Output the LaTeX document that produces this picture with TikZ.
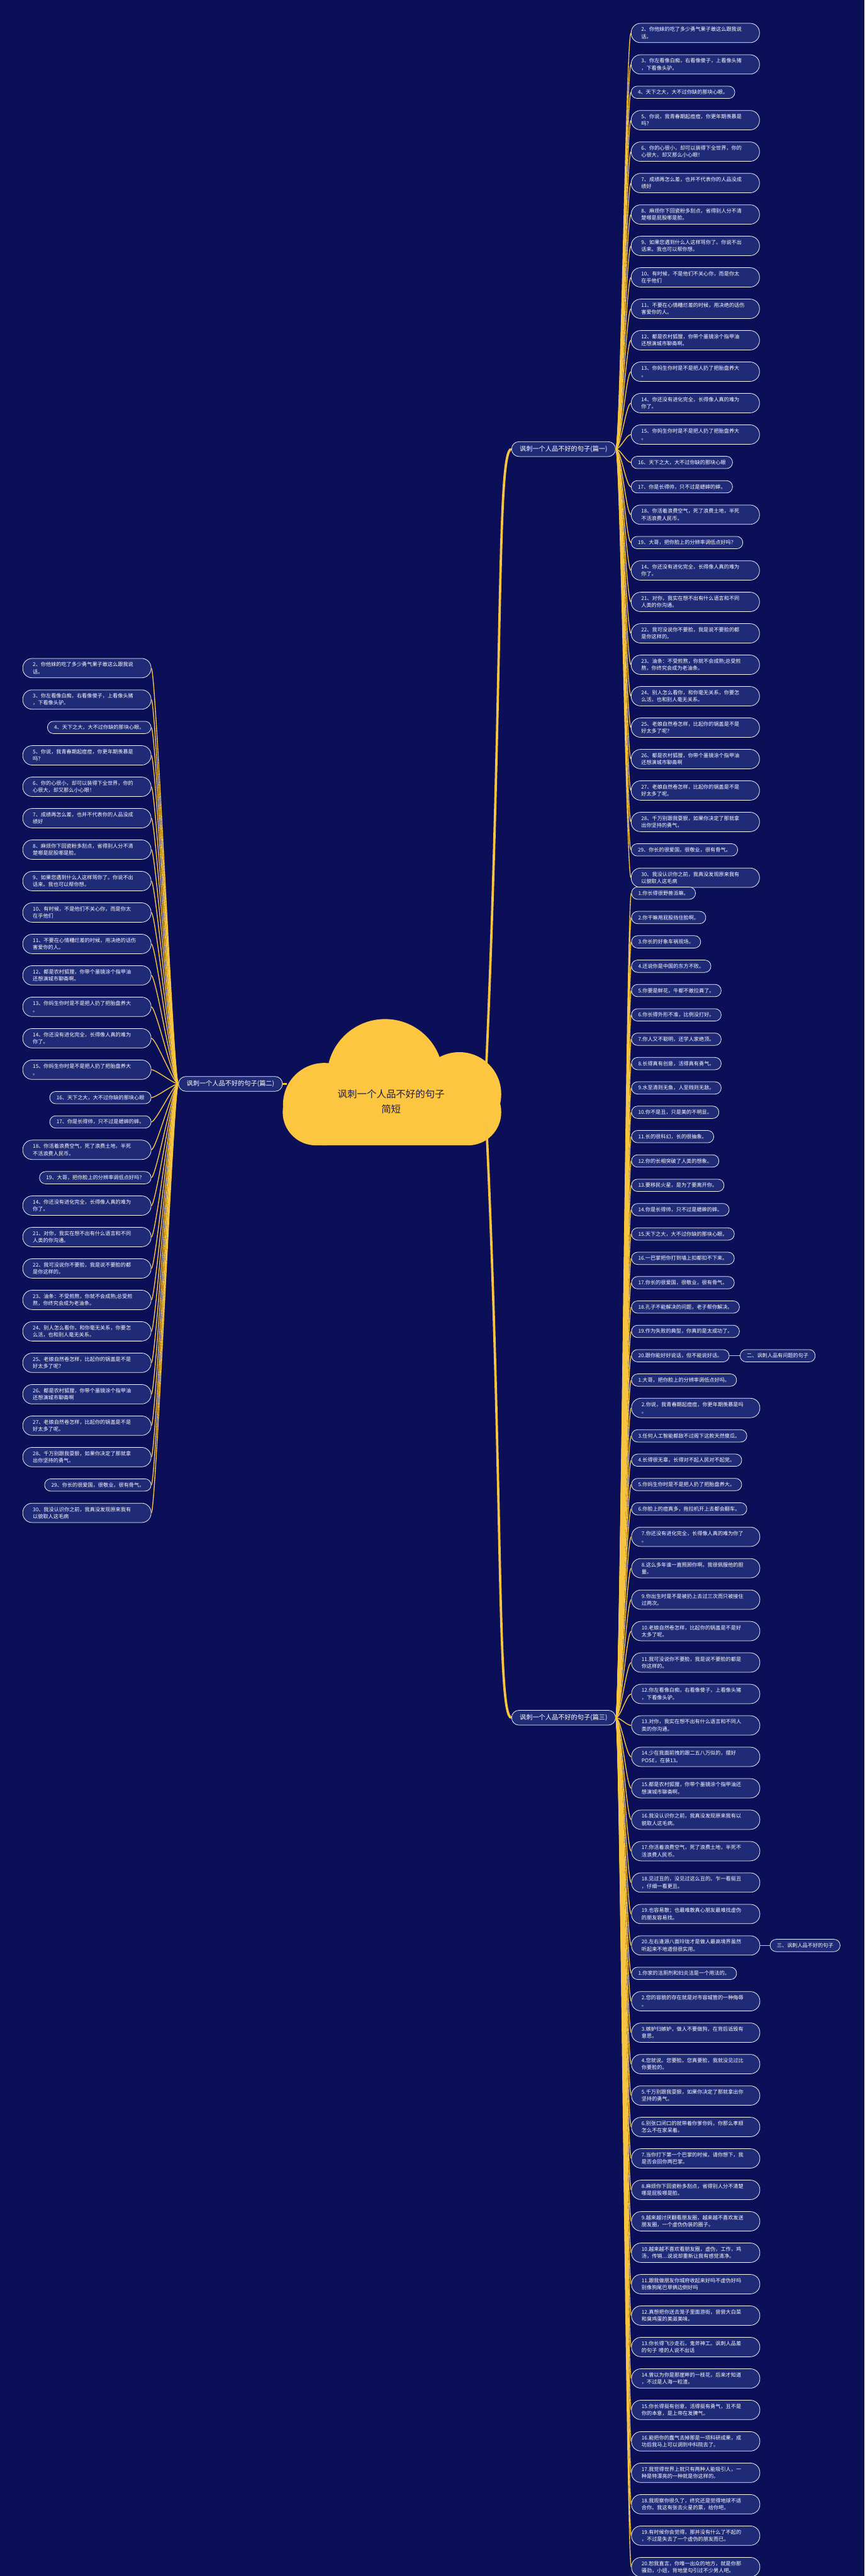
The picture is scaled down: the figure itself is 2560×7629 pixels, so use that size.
\documentclass[tikz,border=0pt]{standalone}
\usepackage{fontspec}
\setmainfont{Noto Sans CJK SC}
\usetikzlibrary{positioning,calc}

\definecolor{bgnavy}{HTML}{0B0F57}
\definecolor{leaffill}{HTML}{202B78}
\definecolor{linkgold}{HTML}{F7C43F}
\definecolor{cloudgold}{HTML}{FDC640}
\definecolor{roottext}{HTML}{1A1D55}

\begin{document}
\begin{tikzpicture}[
    x=0.5pt, y=-0.5pt,
    font=\fontsize{7.6}{10.5}\selectfont,
    node distance=17.1pt,
    leaf/.style={draw=white, line width=0.7pt, fill=leaffill, text=white, inner ysep=2pt},
    leafA/.style={leaf, text width=160pt, align=left, inner xsep=15pt, minimum height=28.75pt, rounded corners=14pt},
    leafB/.style={leaf, inner xsep=10pt, minimum height=18.25pt, rounded corners=9pt},
    nlines/.code={\ifnum#1=2 \tikzset{leafA}\else\tikzset{leafB}\fi},
    branch/.style={leaf, font=\fontsize{9.5}{12}\selectfont, inner xsep=12pt, minimum height=22pt, rounded corners=11pt},
    link/.style={draw=linkgold, line width=1.3pt},
    trunk/.style={draw=linkgold, line width=3.5pt}
]
\useasboundingbox (0,0) rectangle (2560,7629);
\fill[bgnavy] (0,0) rectangle (2560,7629);

% root cloud
\fill[cloudgold, rounded corners=49pt] (837,3195) rectangle (1484,3392);
\fill[cloudgold] (1140,3190) circle[radius=86pt];
\fill[cloudgold] (1360,3240) circle[radius=62pt];
\fill[cloudgold] (960,3270) circle[radius=61pt];
\node[font=\fontsize{14.4}{22}\selectfont, text=roottext, align=center] (root) at (1158,3262) {讽刺一个人品不好的句子\\简短};
\coordinate (c1) at (1440,3150);
\coordinate (c2) at (850,3210);
\coordinate (c3) at (1440,3330);

% branches
\node[branch, anchor=west] (b1) at (1514,1330) {讽刺一个人品不好的句子(篇一)};
\node[branch, anchor=east] (b2) at (837,3210) {讽刺一个人品不好的句子(篇二)};
\node[branch, anchor=west] (b3) at (1514,5087) {讽刺一个人品不好的句子(篇三)};

\draw[trunk] (c1) .. controls (1490,2000) and (1470,1330) .. (b1.west);
\draw[trunk] (c2) -- (b2.east);
\draw[trunk] (c3) .. controls (1490,4400) and (1470,5087) .. (b3.west);

% lists of 篇一 / 篇二
\coordinate (r1) at (1868,34);
\coordinate (l1) at (448,1915);
\foreach \n/\k/\t [remember=\n as \p (initially 1)] in {
    2/2/{2、你他妹的吃了多少勇气果子敢这么跟我说\\话。},
    3/2/{3、你左看像白痴，右看像傻子，上看像头猪\\，下看像头驴。},
    4/1/{4、天下之大，大不过你缺的那块心眼。},
    5/2/{5、你说，我青春期起痘痘，你更年期羡慕是\\吗？},
    6/2/{6、你的心很小，却可以装得下全世界，你的\\心很大，却又那么小心眼！},
    7/2/{7、成绩再怎么差，也并不代表你的人品没成\\绩好},
    8/2/{8、麻烦你下回瓷粉多刮点，省得别人分不清\\楚哪是屁股哪是脸。},
    9/2/{9、如果您遇到什么人这样骂你了。你说不出\\话来。我也可以帮你想。},
    10/2/{10、有时候，不是他们不关心你，而是你太\\在乎他们},
    11/2/{11、不要在心情糟烂差的时候，用决绝的话伤\\害爱你的人。},
    12/2/{12、都是农村狐狸，你带个墨镜涂个指甲油\\还想演城市聊斋啊。},
    13/2/{13、你妈生你时是不是把人扔了把胎盘养大\\。},
    14/2/{14、你还没有进化完全，长得像人真的难为\\你了。},
    15/2/{15、你妈生你时是不是把人扔了把胎盘养大\\。},
    16/1/{16、天下之大，大不过你缺的那块心眼},
    17/1/{17、你是长得帅，只不过是蟋蟀的蟀。},
    18/2/{18、你活着浪费空气，死了浪费土地，半死\\不活浪费人民币。},
    19/1/{19、大哥，把你脸上的分辨率调低点好吗？},
    20/2/{14、你还没有进化完全，长得像人真的难为\\你了。},
    21/2/{21、对你，我实在想不出有什么语言和不同\\人类的你沟通。},
    22/2/{22、我可没说你不要脸，我是说不要脸的都\\是你这样的。},
    23/2/{23、油条：不受煎熬，你就不会成熟;总受煎\\熬，你终究会成为老油条。},
    24/2/{24、别人怎么看你，和你毫无关系，你要怎\\么活，也和别人毫无关系。},
    25/2/{25、老娘自然卷怎样，比起你的锅盖是不是\\好太多了呢？},
    26/2/{26、都是农村狐狸，你带个墨镜涂个指甲油\\还想演城市聊斋啊},
    27/2/{27、老娘自然卷怎样，比起你的锅盖是不是\\好太多了呢。},
    28/2/{28、千万别跟我耍狠，如果你决定了那就拿\\出你坚持的勇气。},
    29/1/{29、你长的很爱国，很敬业，很有骨气。},
    30/2/{30、我没认识你之前，我真没发现原来我有\\以貌取人这毛病}} {
  \node[nlines=\k, below=of r\p.south west, anchor=north west] (r\n) {\t};
  \node[nlines=\k, below=of l\p.south east, anchor=north east] (l\n) {\t};
  \draw[link] (b1.east) .. controls +(14,0) and +(-14,0) .. (r\n.west);
  \draw[link] (b2.west) .. controls +(-14,0) and +(14,0) .. (l\n.east);
}

% list of 篇三
\coordinate (t0) at (1869,2592);
\foreach \n/\k/\t [remember=\n as \p (initially 0)] in {
    1/1/{1.你长得很野兽派嘛。},
    2/1/{2.你干嘛用屁股挡住脸啊。},
    3/1/{3.你长的好象车祸现场。},
    4/1/{4.还说你是中国的东方不败。},
    5/1/{5.你要是鲜花，牛都不敢拉粪了。},
    6/1/{6.你长得外形不准，比例没打好。},
    7/1/{7.你人又不聪明，还学人家绝顶。},
    8/1/{8.长得真有创意，活得真有勇气。},
    9/1/{9.水至清则无鱼，人至贱则无敌。},
    10/1/{10.你不是丑，只是美的不明显。},
    11/1/{11.长的很科幻，长的很抽象。},
    12/1/{12.你的长相突破了人类的想象。},
    13/1/{13.要移民火星，是为了要离开你。},
    14/1/{14.你是长得帅，只不过是蟋蟀的蟀。},
    15/1/{15.天下之大，大不过你缺的那块心眼。},
    16/1/{16.一巴掌把你打到墙上扣都扣不下来。},
    17/1/{17.你长的很爱国，很敬业，很有骨气。},
    18/1/{18.孔子不能解决的问题，老子帮你解决。},
    19/1/{19.作为失败的典型，你真的是太成功了。},
    20/1/{20.跟你能好好说话，但不能说好话。},
    21/1/{1.大哥，把你脸上的分辨率调低点好吗。},
    22/2/{2.你说，我青春期起痘痘，你更年期羡慕是吗\\。},
    23/1/{3.任何人工智能都敌不过阁下这款天然傻瓜。},
    24/1/{4.长得很无辜，长得对不起人民对不起党。},
    25/1/{5.你妈生你时是不是把人扔了把胎盘养大。},
    26/1/{6.你脸上的痘真多，拖拉机开上去都会翻车。},
    27/2/{7.你还没有进化完全，长得像人真的难为你了\\。},
    28/2/{8.这么多年谁一直照顾你啊。我很佩服他的胆\\量。},
    29/2/{9.你出生时是不是被扔上去过三次而只被接住\\过两次。},
    30/2/{10.老娘自然卷怎样，比起你的锅盖是不是好\\太多了呢。},
    31/2/{11.我可没说你不要脸，我是说不要脸的都是\\你这样的。},
    32/2/{12.你左看像白痴，右看像傻子，上看像头猪\\，下看像头驴。},
    33/2/{13.对你，我实在想不出有什么语言和不同人\\类的你沟通。},
    34/2/{14.少在我面前拽的跟二五八万似的，摆好\\POSE，在装13。},
    35/2/{15.都是农村狐狸，你带个墨镜涂个指甲油还\\想演城市聊斋啊。},
    36/2/{16.我没认识你之前，我真没发现原来我有以\\貌取人这毛病。},
    37/2/{17.你活着浪费空气，死了浪费土地，半死不\\活浪费人民币。},
    38/2/{18.见过丑的，没见过这么丑的。乍一看挺丑\\，仔细一看更丑。},
    39/2/{19.也容易散；也最难散真心朋友最难找虚伪\\的朋友容易找。},
    40/2/{20.左右逢源八面玲珑才是做人最高境界虽然\\听起来不地道但很实用。},
    41/1/{1.你家的洁厕剂和妇炎洁是一个用法的。},
    42/2/{2.您的容貌的存在就是对市容城管的一种侮辱\\。},
    43/2/{3.嫉妒归嫉妒，做人不要做狗，在背后诋毁有\\意思。},
    44/2/{4.您就说。您要脸。您真要脸，我就没见过比\\你要脸的。},
    45/2/{5.千万别跟我耍狠，如果你决定了那就拿出你\\坚持的勇气。},
    46/2/{6.别张口闭口的就带着你爹你妈，你那么孝顺\\怎么不在家呆着。},
    47/2/{7.当你打下第一个巴掌的时候，请你想下，我\\是否会回你两巴掌。},
    48/2/{8.麻烦你下回瓷粉多刮点，省得别人分不清楚\\哪是屁股哪是脸。},
    49/2/{9.越来越讨厌翻看朋友圈，越来越不喜欢发送\\朋友圈，一个虚伪伪装的圈子。},
    50/2/{10.越来越不喜欢看朋友圈，虚伪，工作，鸡\\汤，传销…说说却重新让我有感觉清净。},
    51/2/{11.跟我做朋友你城府收起来好吗不虚伪好吗\\别像狗尾巴草俩边倒好吗},
    52/2/{12.真想把你送去笼子里面游街，尝尝大白菜\\和臭鸡蛋的美滋美味。},
    53/2/{13.你长得飞沙走石，鬼斧神工。讽刺人品差\\的句子 噎的人说不出话},
    54/2/{14.曾以为你是那崖畔的一枝花，后来才知道\\，不过是人海一粒渣。},
    55/2/{15.你长得挺有创意，活得挺有勇气，丑不是\\你的本意，是上帝在发脾气。},
    56/2/{16.能把你的蠢气去掉那是一项科研成果，成\\功后我马上可以调到中科院去了。},
    57/2/{17.我觉得世界上就只有两种人能吸引人，一\\种是特漂亮的一种就是你这样的。},
    58/2/{18.我观察你很久了，终究还是觉得地球不适\\合你。我这有张去火星的票，给你吧。},
    59/2/{19.有时候你会觉得，那并没有什么了不起的\\，不过是失去了一个虚伪的朋友而已。},
    60/2/{20.恕我直言，你唯一出众的地方，就是你那\\骚劲，小妞，背地里勾引过不少男人吧。}} {
  \node[nlines=\k, below=of t\p.south west, anchor=north west] (t\n) {\t};
  \draw[link] (b3.east) .. controls +(14,0) and +(-14,0) .. (t\n.west);
}

% side headings
\node[leafB, right=15.5pt of t20] (h2) {二、讽刺人品有问题的句子};
\node[leafB, right=14.5pt of t40] (h3) {三、讽刺人品不好的句子};
\draw[link] (t20) -- (h2);
\draw[link] (t40) -- (h3);
\end{tikzpicture}
\end{document}
